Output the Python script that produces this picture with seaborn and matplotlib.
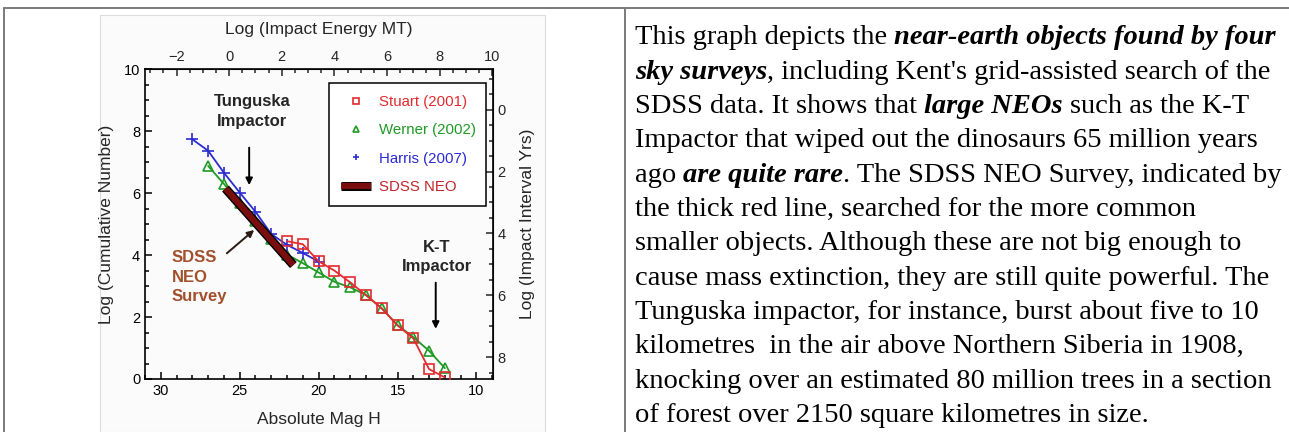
import matplotlib
matplotlib.use("Agg")
import matplotlib.pyplot as plt
import matplotlib.patheffects as pe
from matplotlib.lines import Line2D
from matplotlib.patches import Rectangle
from matplotlib.ticker import MultipleLocator
import seaborn as sns

# values (absolute magnitude H vs log cumulative number)
stuart_h = [22, 21, 20, 19, 18, 17, 16, 15, 14, 13, 12]
stuart_logn = [4.45, 4.35, 3.80, 3.50, 3.12, 2.71, 2.28, 1.73, 1.31, 0.32, 0.05]

werner_h = [27, 26, 25, 24, 23, 22, 21, 20, 19, 18, 17, 16, 15, 14, 13, 12]
werner_logn = [6.88, 6.30, 5.68, 5.10, 4.52, 4.02, 3.74, 3.44, 3.14, 2.96, 2.71,
               2.28, 1.74, 1.35, 0.91, 0.35]

harris_h = [28, 27, 26, 25, 24, 23, 22, 21, 20]
harris_logn = [7.74, 7.37, 6.66, 6.02, 5.40, 4.68, 4.33, 4.07, 3.79]

sdss_h = [25.9, 21.6]
sdss_logn = [6.15, 3.68]

legend_labels = ["Stuart (2001)", "Werner (2002)", "Harris (2007)", "SDSS NEO"]

# caption on the right, (text, bold-italic) pieces per line
caption_lines = [
    [("This graph depicts the ", False), ("near-earth objects found by four", True)],
    [("sky surveys", True), (", including Kent's grid-assisted search of the", False)],
    [("SDSS data. It shows that ", False), ("large NEOs", True), (" such as the K-T", False)],
    [("Impactor that wiped out the dinosaurs 65 million years", False)],
    [("ago ", False), ("are quite rare", True), (". The SDSS NEO Survey, indicated by", False)],
    [("the thick red line, searched for the more common", False)],
    [("smaller objects. Although these are not big enough to", False)],
    [("cause mass extinction, they are still quite powerful. The", False)],
    [("Tunguska impactor, for instance, burst about five to 10", False)],
    [("kilometres  in the air above Northern Siberia in 1908,", False)],
    [("knocking over an estimated 80 million trees in a section", False)],
    [("of forest over 2150 square kilometres in size.", False)],
]

RED = "#e22b30"
GREEN = "#1f9a25"
BLUE = "#2b2bd2"
SDSS_COL = "#7a0d0d"
SDSS_TXT = "#c0262c"
BROWN = "#a24f2b"


def h_to_energy(h):
    return 15.4 - 0.6 * h


def energy_to_h(e):
    return (15.4 - e) / 0.6


def logn_to_interval(n):
    return 8.7 - n


def interval_to_logn(r):
    return 8.7 - r


sns.set_style("ticks")
plt.rcParams["font.family"] = ["Liberation Sans", "DejaVu Sans"]

W, H = 1289, 432
fig = plt.figure(figsize=(W / 100, H / 100), dpi=100)

# page table borders and the pasted image area
for xs, ys in [((4, W), (8, 8)), ((4, 4), (8, H)), ((625, 625), (8, H))]:
    fig.add_artist(Line2D([x / W for x in xs], [1 - y / H for y in ys],
                          transform=fig.transFigure, color="#7a7a7a", lw=1.4))
fig.add_artist(Rectangle((100 / W, 0), 445 / W, 1 - 15 / H, transform=fig.transFigure,
                         fc="#fbfbfb", ec="#dcdcdc", lw=0.8, zorder=0))

ax = fig.add_axes([145 / W, 1 - 379 / H, 347.7 / W, 309.7 / H])
ax.set_facecolor("none")

sns.lineplot(x=stuart_h, y=stuart_logn, ax=ax, sort=False, color=RED, lw=1.3,
             marker="s", markersize=7, mfc="none", mec=RED, mew=1.2, zorder=3)
sns.lineplot(x=werner_h, y=werner_logn, ax=ax, sort=False, color=GREEN, lw=1.3,
             marker="^", markersize=7.5, mfc="none", mec=GREEN, mew=1.2, zorder=2)
sns.lineplot(x=harris_h, y=harris_logn, ax=ax, sort=False, color=BLUE, lw=1.3,
             marker="+", markersize=8, mec=BLUE, mew=1.2, zorder=2.5)
sns.lineplot(x=sdss_h, y=sdss_logn, ax=ax, sort=False, color=SDSS_COL, lw=4.5,
             solid_capstyle="butt", zorder=4,
             path_effects=[pe.Stroke(linewidth=6.5, foreground="black"), pe.Normal()])

ax.set_xlim(31.0, 8.97)
ax.set_ylim(0, 10)
ax.xaxis.set_major_locator(MultipleLocator(5))
ax.xaxis.set_minor_locator(MultipleLocator(1))
ax.yaxis.set_major_locator(MultipleLocator(2))
ax.yaxis.set_minor_locator(MultipleLocator(0.5))
ax.tick_params(which="both", direction="in", width=1.1, labelsize=10.5, colors="black")
ax.tick_params(which="major", length=5)
ax.tick_params(which="minor", length=2.8)
for s in ax.spines.values():
    s.set_linewidth(1.2)
    s.set_color("black")
ax.set_xlabel("Absolute Mag H", fontsize=12.5, labelpad=10)
ax.set_ylabel("Log (Cumulative Number)", fontsize=12.5, labelpad=7)

top = ax.secondary_xaxis("top", functions=(h_to_energy, energy_to_h))
top.xaxis.set_major_locator(MultipleLocator(2))
top.xaxis.set_minor_locator(MultipleLocator(0.5))
top.tick_params(which="both", direction="in", width=1.1, labelsize=10.5)
top.tick_params(which="major", length=5)
top.tick_params(which="minor", length=2.8)
top.set_xlabel("Log (Impact Energy MT)", fontsize=12.5, labelpad=12)

right = ax.secondary_yaxis("right", functions=(logn_to_interval, interval_to_logn))
right.yaxis.set_major_locator(MultipleLocator(2))
right.yaxis.set_minor_locator(MultipleLocator(0.5))
right.tick_params(which="both", direction="in", width=1.1, labelsize=10.5)
right.tick_params(which="major", length=5)
right.tick_params(which="minor", length=2.8)
right.set_ylabel("Log (Impact Interval Yrs)", fontsize=12.5, labelpad=10)

# legend
handles = [
    Line2D([], [], ls="none", marker="s", ms=4.5, mfc="none", mec=RED, mew=1.2),
    Line2D([], [], ls="none", marker="^", ms=4.5, mfc="none", mec=GREEN, mew=1.2),
    Line2D([], [], ls="none", marker="+", ms=5, mec=BLUE, mew=1.2),
    Line2D([], [], color=SDSS_COL, lw=4.5, solid_capstyle="butt",
           path_effects=[pe.Stroke(linewidth=6.5, foreground="black"), pe.Normal()]),
]
leg = ax.legend(handles, legend_labels, loc="upper left",
                bbox_to_anchor=(0.530, 0.526, 0.451, 0.429), mode="expand",
                borderaxespad=0, frameon=True, fancybox=False, edgecolor="black",
                fontsize=10.8, labelcolor=[RED, GREEN, BLUE, SDSS_TXT],
                handlelength=2.0, handletextpad=0.5, labelspacing=0.95, borderpad=0.8)
leg.get_frame().set_linewidth(1.1)
leg.get_frame().set_facecolor("white")
leg.get_frame().set_alpha(None)

# annotations
ax.text(24.2, 8.64, "Tunguska\nImpactor", ha="center", va="center", fontsize=12,
        fontweight="bold", linespacing=1.35)
ax.annotate("", xy=(24.4, 6.17), xytext=(24.4, 7.56),
            arrowprops=dict(arrowstyle="-|>", color="black", lw=1.4, mutation_scale=10))
ax.text(29.3, 3.29, "SDSS\nNEO\nSurvey", ha="left", va="center", fontsize=12,
        fontweight="bold", color=BROWN, linespacing=1.35)
ax.annotate("", xy=(23.95, 4.87), xytext=(25.95, 4.0),
            arrowprops=dict(arrowstyle="-|>", color="#2a1a14", lw=1.4, mutation_scale=10))
ax.text(12.52, 3.94, "K-T\nImpactor", ha="center", va="center", fontsize=12,
        fontweight="bold", linespacing=1.35)
ax.annotate("", xy=(12.58, 1.53), xytext=(12.58, 3.2),
            arrowprops=dict(arrowstyle="-|>", color="black", lw=1.4, mutation_scale=10))

# caption text with bold-italic runs
renderer = fig.canvas.get_renderer()
cap_size = 20.5


def cap_style(emph):
    if emph:
        return dict(fontsize=cap_size, family="Liberation Serif", weight="bold", style="italic")
    return dict(fontsize=cap_size, family="Liberation Serif")


def measure(s, emph):
    t = fig.text(0, 0, s, **cap_style(emph))
    w = t.get_window_extent(renderer).width
    t.remove()
    return w


space_w = {e: measure("a a", e) - measure("aa", e) for e in (False, True)}

y0, step = 44.5, 34.3
for i, parts in enumerate(caption_lines):
    x = 635.0
    y = y0 + i * step
    for txt, emph in parts:
        lead = len(txt) - len(txt.lstrip(" "))
        trail = len(txt) - len(txt.rstrip(" "))
        core = txt.strip(" ")
        x += lead * space_w[emph]
        fig.text(x / W, 1 - y / H, core, va="baseline", ha="left", color="black",
                 **cap_style(emph))
        x += measure(core, emph) + trail * space_w[emph]

fig.savefig("out.png", dpi=100)
